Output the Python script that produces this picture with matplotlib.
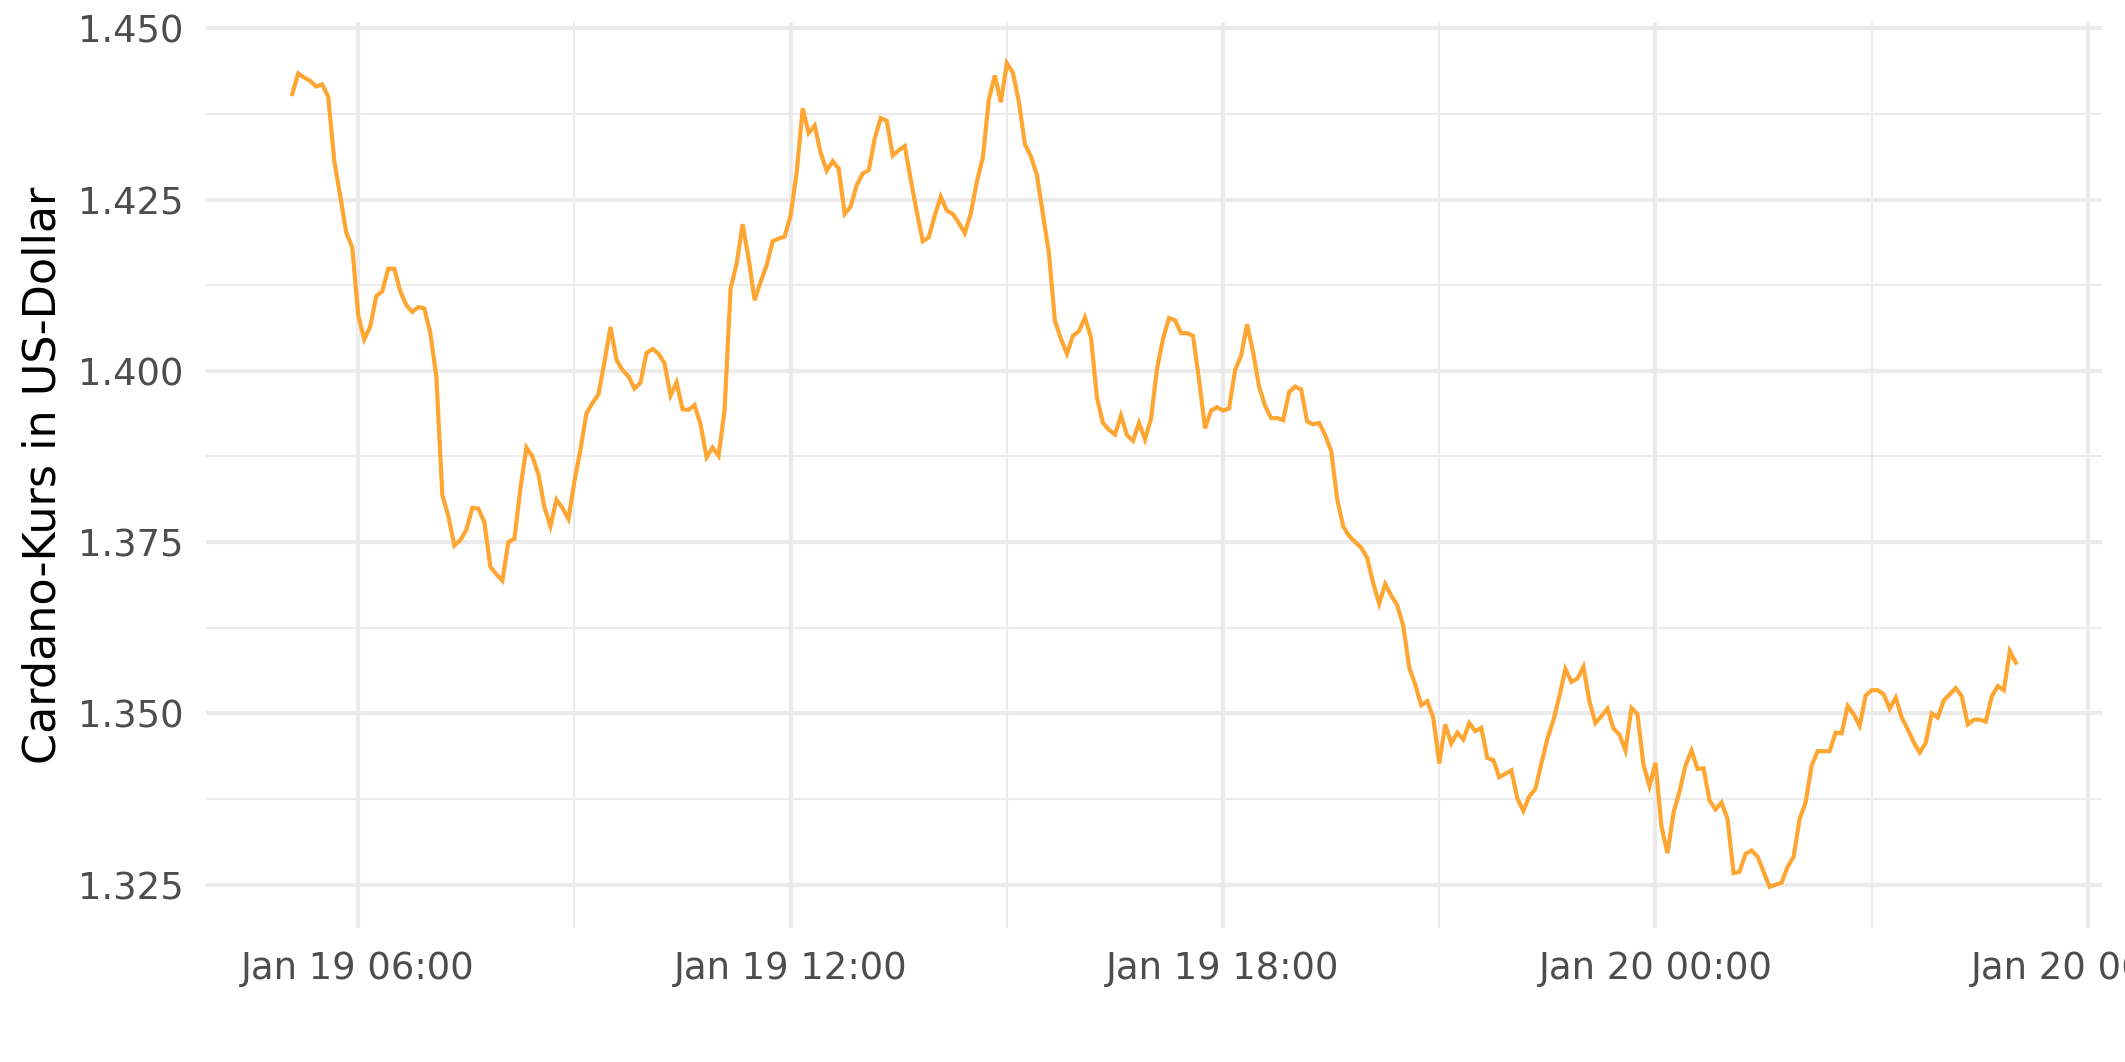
"""
Cardano-Kurs (ADA/USD) über 24 Stunden, 5-Minuten-Werte
"""

import pandas as pd
import matplotlib
matplotlib.use('Agg')
import matplotlib.pyplot as plt
import matplotlib.dates as mdates
from matplotlib.ticker import MultipleLocator, FormatStrFormatter

# Daten, Start Jan 19 05:05, Intervall 5 Minuten
start_time = '2022-01-19 05:05'
interval = '5min'
price_usd = [
    1.4404, 1.4434, 1.4428, 1.4423, 1.4415, 1.4418, 1.4400, 1.4307, 1.4255, 1.4202,
    1.4180, 1.4081, 1.4046, 1.4065, 1.4109, 1.4116, 1.4149, 1.4149, 1.4116, 1.4096,
    1.4086, 1.4093, 1.4091, 1.4055, 1.3992, 1.3819, 1.3788, 1.3745, 1.3753, 1.3768,
    1.3800, 1.3799, 1.3779, 1.3714, 1.3703, 1.3694, 1.3750, 1.3755, 1.3828, 1.3888,
    1.3875, 1.3849, 1.3801, 1.3773, 1.3812, 1.3800, 1.3784, 1.3839, 1.3885, 1.3938,
    1.3953, 1.3966, 1.4013, 1.4064, 1.4016, 1.4001, 1.3992, 1.3974, 1.3983, 1.4026,
    1.4032, 1.4025, 1.4011, 1.3964, 1.3983, 1.3944, 1.3943, 1.3950, 1.3922, 1.3874,
    1.3888, 1.3876, 1.3943, 1.4120, 1.4156, 1.4214, 1.4164, 1.4103, 1.4130, 1.4154,
    1.4189, 1.4193, 1.4196, 1.4227, 1.4289, 1.4383, 1.4347, 1.4358, 1.4318, 1.4292,
    1.4306, 1.4295, 1.4229, 1.4240, 1.4271, 1.4288, 1.4293, 1.4339, 1.4369, 1.4365,
    1.4314, 1.4322, 1.4328, 1.4279, 1.4232, 1.4189, 1.4195, 1.4227, 1.4254, 1.4234,
    1.4229, 1.4216, 1.4201, 1.4230, 1.4276, 1.4311, 1.4396, 1.4431, 1.4392, 1.4449,
    1.4435, 1.4393, 1.4331, 1.4313, 1.4286, 1.4229, 1.4172, 1.4073, 1.4047, 1.4025,
    1.4051, 1.4058, 1.4078, 1.4049, 1.3961, 1.3924, 1.3914, 1.3907, 1.3935, 1.3906,
    1.3898, 1.3924, 1.3900, 1.3930, 1.4003, 1.4047, 1.4077, 1.4074, 1.4055, 1.4055,
    1.4051, 1.3987, 1.3916, 1.3942, 1.3947, 1.3942, 1.3945, 1.4001, 1.4022, 1.4068,
    1.4027, 1.3977, 1.3949, 1.3931, 1.3931, 1.3928, 1.3969, 1.3977, 1.3973, 1.3926,
    1.3922, 1.3924, 1.3906, 1.3883, 1.3813, 1.3773, 1.3759, 1.3750, 1.3742, 1.3727,
    1.3690, 1.3660, 1.3689, 1.3672, 1.3658, 1.3628, 1.3567, 1.3542, 1.3512, 1.3518,
    1.3494, 1.3427, 1.3484, 1.3456, 1.3472, 1.3462, 1.3486, 1.3474, 1.3479, 1.3435,
    1.3432, 1.3407, 1.3412, 1.3417, 1.3376, 1.3358, 1.3379, 1.3390, 1.3427, 1.3463,
    1.3490, 1.3525, 1.3565, 1.3546, 1.3551, 1.3568, 1.3518, 1.3486, 1.3496, 1.3507,
    1.3478, 1.3469, 1.3446, 1.3508, 1.3499, 1.3425, 1.3394, 1.3428, 1.3335, 1.3296,
    1.3355, 1.3386, 1.3424, 1.3446, 1.3419, 1.3420, 1.3373, 1.3360, 1.3370, 1.3346,
    1.3267, 1.3269, 1.3295, 1.3300, 1.3291, 1.3269, 1.3247, 1.3250, 1.3253, 1.3276,
    1.3291, 1.3346, 1.3370, 1.3424, 1.3445, 1.3445, 1.3445, 1.3472, 1.3471, 1.3511,
    1.3499, 1.3482, 1.3526, 1.3534, 1.3534, 1.3528, 1.3507, 1.3523, 1.3494, 1.3477,
    1.3458, 1.3443, 1.3457, 1.3500, 1.3494, 1.3519, 1.3528, 1.3537, 1.3525, 1.3484,
    1.3491, 1.3491, 1.3488, 1.3525, 1.3540, 1.3534, 1.3591, 1.3574,
]
y_label = 'Cardano-Kurs in US-Dollar'

zeit = pd.date_range(start_time, periods=len(price_usd), freq=interval)

# Stil (ähnlich theme_minimal)
plt.rcParams['font.family'] = ['DejaVu Sans']
grid_col = '#EBEBEB'
text_col = '#4D4D4D'

fig = plt.figure(figsize=(2125 / 200, 1062 / 200), dpi=200)
ax = fig.add_axes([206 / 2125, 1 - 928 / 1062, (2102 - 206) / 2125, (928 - 22) / 1062])

ax.plot(zeit, price_usd, color='#FFA632', linewidth=1.5, solid_joinstyle='miter')
ax.margins(x=0.05, y=0.05)

# Achsen
ax.yaxis.set_major_locator(MultipleLocator(0.025))
ax.yaxis.set_minor_locator(MultipleLocator(0.0125))
ax.yaxis.set_major_formatter(FormatStrFormatter('%.3f'))
ax.xaxis.set_major_locator(mdates.HourLocator(byhour=[0, 6, 12, 18]))
ax.xaxis.set_minor_locator(mdates.HourLocator(byhour=[3, 9, 15, 21]))
ax.xaxis.set_major_formatter(mdates.DateFormatter('%b %d %H:%M'))

ax.grid(True, which='major', color=grid_col, linewidth=1.5)
ax.grid(True, which='minor', color=grid_col, linewidth=0.75)
ax.set_axisbelow(True)
for s in ax.spines.values():
    s.set_visible(False)

ax.tick_params(which='both', length=0, labelsize=13.3, labelcolor=text_col)
ax.tick_params(axis='y', pad=8)
ax.tick_params(axis='x', pad=8)
ax.set_ylabel(y_label, fontsize=16, color='black', labelpad=5)

plt.savefig('out.png', dpi=200, facecolor='white')
plt.close()
